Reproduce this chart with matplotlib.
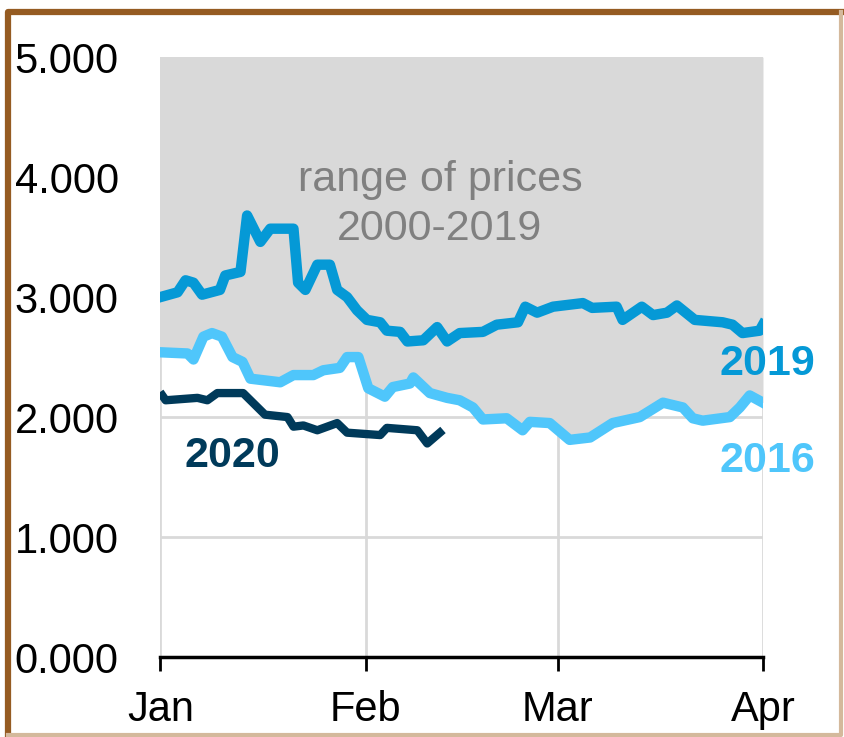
#!usr/bin/env python3

import matplotlib
matplotlib.use("Agg")
import matplotlib.pyplot as plt
from matplotlib.lines import Line2D

# days since Jan 1 (2020 calendar) and price in $/gal
days_2019 = [0, 2.6, 3.8, 5.0, 6.3, 9.0, 9.8, 12.1, 13.1, 15.1, 16.6, 20.1, 20.8, 21.9,
	23.7, 25.6, 26.7, 28.2, 29.7, 31.2, 33.2, 34.2, 36.2, 37.3, 39.7, 41.8, 43.3,
	45.2, 48.7, 50.8, 54.0, 55.1, 56.9, 59.3, 63.8, 65.2, 68.9, 69.8, 72.7, 74.4,
	76.5, 78.0, 80.7, 84.9, 86.4, 87.9, 90.5, 91]
vals_2019 = [3.00, 3.04, 3.14, 3.12, 3.02, 3.06, 3.18, 3.21, 3.68, 3.46, 3.57, 3.57, 3.12, 3.06,
	3.27, 3.27, 3.06, 3.00, 2.89, 2.81, 2.79, 2.72, 2.71, 2.63, 2.64, 2.75, 2.63,
	2.70, 2.71, 2.77, 2.79, 2.92, 2.87, 2.92, 2.95, 2.91, 2.92, 2.81, 2.92, 2.85,
	2.87, 2.93, 2.81, 2.79, 2.77, 2.70, 2.72, 2.77]

days_2016 = [0, 4.1, 5.0, 6.5, 7.8, 9.3, 10.9, 12.4, 13.6, 18.1, 20.1, 23.1, 24.6, 27.1,
	28.2, 29.9, 31.4, 33.9, 35.1, 37.7, 38.2, 40.7, 43.3, 45.2, 47.2, 48.7, 52.3,
	54.7, 55.8, 58.8, 61.8, 64.9, 68.3, 72.4, 75.9, 78.9, 80.4, 81.9, 86.0, 87.5,
	89.0, 91]
vals_2016 = [2.54, 2.53, 2.48, 2.67, 2.70, 2.67, 2.50, 2.46, 2.32, 2.29, 2.35, 2.35, 2.39, 2.41,
	2.50, 2.50, 2.24, 2.17, 2.25, 2.28, 2.33, 2.20, 2.16, 2.14, 2.08, 1.98, 1.99,
	1.89, 1.96, 1.95, 1.81, 1.83, 1.95, 2.00, 2.12, 2.08, 1.99, 1.97, 2.00, 2.08,
	2.18, 2.12]

days_2020 = [0.3, 0.8, 5.6, 7.1, 8.6, 12.5, 13.6, 15.8, 19.2, 20.1, 21.6, 23.7, 26.7,
	28.2, 33.2, 34.2, 38.8, 40.3, 42.2]
vals_2020 = [2.18, 2.14, 2.16, 2.14, 2.20, 2.20, 2.14, 2.02, 2.00, 1.92, 1.93, 1.89, 1.95,
	1.87, 1.85, 1.91, 1.89, 1.78, 1.87]

range_top = 5.0
month_days = [0, 31, 60, 91]
month_labels = ["Jan", "Feb", "Mar", "Apr"]
y_ticks = [0, 1, 2, 3, 4, 5]

def main():
	plt.rcParams["font.family"] = ["Liberation Sans", "DejaVu Sans"]
	fig = plt.figure(figsize=(8.44, 7.37), dpi=100)
	ax = fig.add_axes([0.19, 0.1085, 0.714, 0.814])

	ax.set_xlim(0, 91)
	ax.set_ylim(0, 5)
	ax.set_xticks(month_days)
	ax.set_xticklabels(month_labels)
	ax.set_yticks(y_ticks)
	ax.set_yticklabels(["%.3f" % v for v in y_ticks])
	ax.grid(True, color="#d9d9d9", lw=2)
	ax.set_axisbelow(True)

	for side in ["left", "right", "top"]:
		ax.spines[side].set_visible(False)
	ax.spines["bottom"].set_linewidth(2.5)
	ax.tick_params(axis="x", length=10, width=2, labelsize=30, pad=14)
	ax.tick_params(axis="y", length=0, labelsize=30, pad=30)

	ax.fill_between(days_2016, vals_2016, range_top, color="#d9d9d9", lw=0, zorder=1.5)

	ax.plot(days_2016, vals_2016, color="#4fc6fb", lw=7.5, zorder=3)
	ax.plot(days_2019, vals_2019, color="#0599d6", lw=7.5, zorder=3)
	ax.plot(days_2020, vals_2020, color="#003a5a", lw=6, zorder=4)

	ax.text(42.2, 3.77, "range of prices\n2000-2019", color="#808080", fontsize=31,
		ha="center", va="center", linespacing=1.3)
	ax.text(91.7, 2.44, "2019", color="#0599d6", fontsize=31, fontweight="bold",
		ha="center", va="center", clip_on=False)
	ax.text(91.7, 1.63, "2016", color="#4fc6fb", fontsize=31, fontweight="bold",
		ha="center", va="center", clip_on=False)
	ax.text(10.9, 1.675, "2020", color="#003a5a", fontsize=31, fontweight="bold",
		ha="center", va="center")

	# bevelled frame: dark on top/left, light tan on right/bottom
	fig.lines.append(Line2D([0.009, 0.009, 0.998], [0.003, 0.984, 0.984],
		transform=fig.transFigure, color="#955b22", lw=4.5))
	fig.lines.append(Line2D([0.009, 0.997, 0.997], [0.003, 0.003, 0.984],
		transform=fig.transFigure, color="#d4b99c", lw=3))

	fig.savefig("out.png", dpi=100)

if __name__ == "__main__":
	main()
